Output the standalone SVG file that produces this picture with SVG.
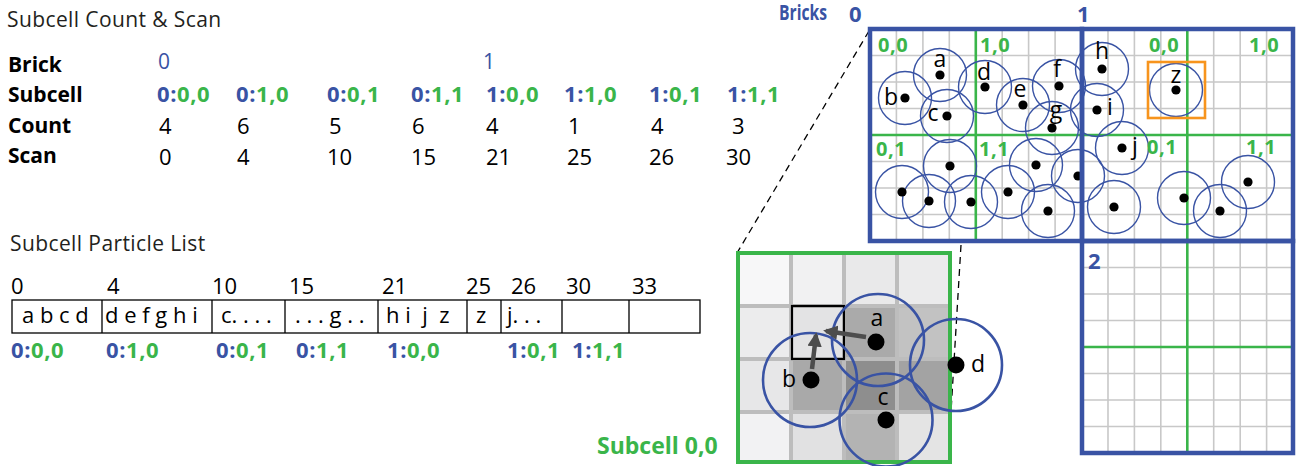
<svg xmlns="http://www.w3.org/2000/svg" width="1302" height="466" viewBox="0 0 1302 466">
<defs>
<style>
text{font-family:"Open Sans","Noto Sans","Liberation Sans",sans-serif;}
.ttl{font-size:21px;letter-spacing:0.4px;fill:#231f20;}
.rl{font-size:21px;font-weight:bold;fill:#000;}
.sv{font-size:22px;font-weight:bold;letter-spacing:0.6px;}
.b{fill:#3953a4;}
.g{fill:#3ab54a;}
.num{font-size:22px;fill:#000;}
.bn{font-size:21px;fill:#3953a4;}
.bx{font-size:22px;fill:#000;white-space:pre;}
.lbl{font-size:20px;font-weight:bold;letter-spacing:0.5px;fill:#3ab54a;}
.bk{font-size:22px;font-weight:bold;fill:#3953a4;}
.pl{font-size:23px;fill:#000;text-anchor:middle;}
.gl{stroke:#c8c8c8;stroke-width:1.6;fill:none;}
.gr{stroke:#3ab54a;stroke-width:2.6;fill:none;}
.bb{stroke:#3953a4;stroke-width:4.5;fill:none;}
.pc{stroke:#3953a4;stroke-width:1.4;fill:none;}
.zc{stroke:#3953a4;stroke-width:2.6;fill:none;}
.dash{stroke:#000;stroke-width:1.3;stroke-dasharray:7 5;fill:none;}
.arr{stroke:#4d4d4d;stroke-width:4.5;fill:none;marker-end:url(#ah);}
</style>
<marker id="ah" viewBox="0 0 10 10" refX="8" refY="5" markerWidth="3.2" markerHeight="3.2" orient="auto" markerUnits="strokeWidth">
<path d="M0,0 L10,5 L0,10 z" fill="#4d4d4d"/>
</marker>
</defs>
<rect width="1302" height="466" fill="#fff"/>

<g id="count-scan-table">
<text class="ttl" x="7" y="27">Subcell Count &amp; Scan</text>
<text class="rl" x="8" y="72">Brick</text>
<text class="rl" x="8" y="102">Subcell</text>
<text class="rl" x="8" y="133">Count</text>
<text class="rl" x="8" y="163">Scan</text>
<text class="bn" x="158" y="69">0</text>
<text class="bn" x="483" y="69">1</text>
<text class="sv" x="157" y="102"><tspan class="b">0:</tspan><tspan class="g">0,0</tspan></text>
<text class="sv" x="236" y="102"><tspan class="b">0:</tspan><tspan class="g">1,0</tspan></text>
<text class="sv" x="327" y="102"><tspan class="b">0:</tspan><tspan class="g">0,1</tspan></text>
<text class="sv" x="411" y="102"><tspan class="b">0:</tspan><tspan class="g">1,1</tspan></text>
<text class="sv" x="486" y="102"><tspan class="b">1:</tspan><tspan class="g">0,0</tspan></text>
<text class="sv" x="564" y="102"><tspan class="b">1:</tspan><tspan class="g">1,0</tspan></text>
<text class="sv" x="649" y="102"><tspan class="b">1:</tspan><tspan class="g">0,1</tspan></text>
<text class="sv" x="727" y="102"><tspan class="b">1:</tspan><tspan class="g">1,1</tspan></text>
<text class="num" x="159" y="134">4</text>
<text class="num" x="237" y="134">6</text>
<text class="num" x="329" y="134">5</text>
<text class="num" x="412" y="134">6</text>
<text class="num" x="486" y="134">4</text>
<text class="num" x="568" y="134">1</text>
<text class="num" x="651" y="134">4</text>
<text class="num" x="732" y="134">3</text>
<text class="num" x="159" y="165">0</text>
<text class="num" x="237" y="165">4</text>
<text class="num" x="327" y="165">10</text>
<text class="num" x="411" y="165">15</text>
<text class="num" x="486" y="165">21</text>
<text class="num" x="567" y="165">25</text>
<text class="num" x="649" y="165">26</text>
<text class="num" x="726" y="165">30</text>
</g>

<g id="particle-list">
<text class="ttl" x="10" y="251">Subcell Particle List</text>
<text class="num" x="11" y="294">0</text>
<text class="num" x="107" y="294">4</text>
<text class="num" x="212" y="294">10</text>
<text class="num" x="289" y="294">15</text>
<text class="num" x="382" y="294">21</text>
<text class="num" x="466" y="294">25</text>
<text class="num" x="511" y="294">26</text>
<text class="num" x="566" y="294">30</text>
<text class="num" x="632" y="294">33</text>
<rect x="12" y="300" width="688" height="33" fill="none" stroke="#000" stroke-width="1.3"/>
<path d="M102,300V333M212,300V333M285,300V333M378,300V333M467,300V333M501,300V333M562,300V333M629,300V333" stroke="#000" stroke-width="1.3"/>
<text class="bx" x="22" y="323">a b c d</text>
<text class="bx" x="105" y="323">d e f g h i</text>
<text class="bx" x="221" y="323">c. . . .</text>
<text class="bx" x="295" y="323">. . . g . .</text>
<text class="bx" x="386" y="323">h i  j  z</text>
<text class="bx" x="476" y="323">z</text>
<text class="bx" x="507" y="323">j. . .</text>
<text class="sv" x="11" y="358"><tspan class="b">0:</tspan><tspan class="g">0,0</tspan></text>
<text class="sv" x="106" y="358"><tspan class="b">0:</tspan><tspan class="g">1,0</tspan></text>
<text class="sv" x="216" y="358"><tspan class="b">0:</tspan><tspan class="g">0,1</tspan></text>
<text class="sv" x="296" y="358"><tspan class="b">0:</tspan><tspan class="g">1,1</tspan></text>
<text class="sv" x="387" y="358"><tspan class="b">1:</tspan><tspan class="g">0,0</tspan></text>
<text class="sv" x="507" y="358"><tspan class="b">1:</tspan><tspan class="g">0,1</tspan></text>
<text class="sv" x="572" y="358"><tspan class="b">1:</tspan><tspan class="g">1,1</tspan></text>
</g>

<g id="connectors">
<path class="dash" d="M869,31 L737,253"/>
<path class="dash" d="M961,245 L948,462"/>
</g>

<g id="bricks">
<path class="gl" d="M896.4,29V241M922.9,29V241M949.3,29V241M1002.2,29V241M1028.6,29V241M1055.1,29V241M1108,29V453M1134.4,29V453M1160.8,29V453M1213.7,29V453M1240.2,29V453M1266.6,29V453"/>
<path class="gl" d="M870,55.5H1293M870,82H1293M870,108.5H1293M870,161.5H1293M870,188H1293M870,214.5H1293M1082,267.5H1293M1082,294H1293M1082,320.5H1293M1082,373.5H1293M1082,400H1293M1082,426.5H1293"/>
<path class="gr" d="M975.8,29V241M870,135H1293M1187.3,29V453M1082,347H1293"/>
</g>

<g id="particles">
<g class="pc">
<circle cx="940" cy="75" r="26.5"/>
<circle cx="905" cy="98" r="26.5"/>
<circle cx="947" cy="116" r="26.5"/>
<circle cx="985" cy="87" r="26.5"/>
<circle cx="1023" cy="105" r="26.5"/>
<circle cx="1059" cy="86" r="26.5"/>
<circle cx="1052" cy="128" r="26.5"/>
<circle cx="1102" cy="69" r="26.5"/>
<circle cx="1097" cy="110" r="26.5"/>
<circle cx="1176" cy="90" r="26.5"/>
<circle cx="1122" cy="148" r="26.5"/>
<circle cx="950" cy="166" r="26.5"/>
<circle cx="902" cy="192" r="26.5"/>
<circle cx="929" cy="201" r="26.5"/>
<circle cx="971" cy="202" r="26.5"/>
<circle cx="1008" cy="192" r="26.5"/>
<circle cx="1036" cy="165" r="26.5"/>
<circle cx="1048" cy="211" r="26.5"/>
<circle cx="1078" cy="176" r="26.5"/>
<circle cx="1114" cy="207" r="26.5"/>
<circle cx="1184" cy="198" r="26.5"/>
<circle cx="1220" cy="211" r="26.5"/>
<circle cx="1248" cy="182" r="26.5"/>
</g>
<g fill="#000">
<circle cx="940" cy="75" r="4.6"/>
<circle cx="905" cy="98" r="4.6"/>
<circle cx="947" cy="116" r="4.6"/>
<circle cx="985" cy="87" r="4.6"/>
<circle cx="1023" cy="105" r="4.6"/>
<circle cx="1059" cy="86" r="4.6"/>
<circle cx="1052" cy="128" r="4.6"/>
<circle cx="1102" cy="69" r="4.6"/>
<circle cx="1097" cy="110" r="4.6"/>
<circle cx="1176" cy="90" r="4.6"/>
<circle cx="1122" cy="148" r="4.6"/>
<circle cx="950" cy="166" r="4.6"/>
<circle cx="902" cy="192" r="4.6"/>
<circle cx="929" cy="201" r="4.6"/>
<circle cx="971" cy="202" r="4.6"/>
<circle cx="1008" cy="192" r="4.6"/>
<circle cx="1036" cy="165" r="4.6"/>
<circle cx="1048" cy="211" r="4.6"/>
<circle cx="1078" cy="176" r="4.6"/>
<circle cx="1114" cy="207" r="4.6"/>
<circle cx="1184" cy="198" r="4.6"/>
<circle cx="1220" cy="211" r="4.6"/>
<circle cx="1248" cy="182" r="4.6"/>
</g>
<text class="pl" x="940" y="67">a</text>
<text class="pl" x="891" y="105">b</text>
<text class="pl" x="933" y="121">c</text>
<text class="pl" x="984" y="80">d</text>
<text class="pl" x="1020" y="97">e</text>
<text class="pl" x="1057" y="77">f</text>
<text class="pl" x="1056" y="118">g</text>
<text class="pl" x="1102" y="59">h</text>
<text class="pl" x="1110" y="115">i</text>
<text class="pl" x="1135" y="154">j</text>
<text class="pl" x="1176" y="83">z</text>
<rect x="1148" y="62" width="57" height="56" fill="none" stroke="#f7941d" stroke-width="2.6"/>
</g>

<g id="brick-borders">
<rect class="bb" x="870" y="29" width="212" height="212"/>
<rect class="bb" x="1082" y="29" width="211" height="212"/>
<rect class="bb" x="1082" y="241" width="211" height="212"/>
<text class="lbl" x="878" y="52">0,0</text>
<text class="lbl" x="980" y="52">1,0</text>
<text class="lbl" x="1149" y="52">0,0</text>
<text class="lbl" x="1249" y="52">1,0</text>
<text class="lbl" x="876" y="156">0,1</text>
<text class="lbl" x="979" y="156">1,1</text>
<text class="lbl" x="1147" y="154">0,1</text>
<text class="lbl" x="1246" y="154">1,1</text>
<text class="bk" x="779" y="20" style="font-size:21px" textLength="48" lengthAdjust="spacingAndGlyphs">Bricks</text>
<text class="bk" x="849" y="22">0</text>
<text class="bk" x="1077" y="22">1</text>
<text class="bk" x="1088" y="269">2</text>
</g>

<g id="subcell-zoom">
<rect x="738" y="253" width="53" height="53" fill="#f7f7f8"/>
<rect x="791" y="253" width="53" height="53" fill="#f1f1f2"/>
<rect x="844" y="253" width="53" height="53" fill="#e9e9ea"/>
<rect x="897" y="253" width="53" height="53" fill="#ebebec"/>
<rect x="738" y="306" width="53" height="53" fill="#ececed"/>
<rect x="791" y="306" width="53" height="53" fill="#e3e3e4"/>
<rect x="844" y="306" width="53" height="53" fill="#aaaaaa"/>
<rect x="897" y="306" width="53" height="53" fill="#c2c2c2"/>
<rect x="738" y="359" width="53" height="53" fill="#e7e7e8"/>
<rect x="791" y="359" width="53" height="53" fill="#a9a9a9"/>
<rect x="844" y="359" width="53" height="53" fill="#8e8e8e"/>
<rect x="897" y="359" width="53" height="53" fill="#a3a3a3"/>
<rect x="738" y="412" width="53" height="50" fill="#f2f2f3"/>
<rect x="791" y="412" width="53" height="50" fill="#e1e1e2"/>
<rect x="844" y="412" width="53" height="50" fill="#b3b3b3"/>
<rect x="897" y="412" width="53" height="50" fill="#e4e4e4"/>
<path d="M791,253V462M844,253V462M897,253V462M738,306H950M738,359H950M738,412H950" stroke="#bdbdbd" stroke-width="4"/>
<rect x="738" y="253" width="212" height="209" fill="none" stroke="#3ab54a" stroke-width="4"/>
<rect x="792" y="306" width="52" height="53" fill="none" stroke="#000" stroke-width="2.2"/>
<circle class="zc" cx="878" cy="340" r="46"/>
<circle class="zc" cx="810" cy="380" r="47"/>
<circle class="zc" cx="886" cy="420" r="46.5"/>
<circle class="zc" cx="956" cy="365" r="46"/>
<path class="arr" d="M866,337 L826,331"/>
<path class="arr" d="M812,369 L816,335"/>
<circle cx="876" cy="342" r="8.5"/>
<circle cx="811" cy="380" r="8.5"/>
<circle cx="886" cy="420" r="8.5"/>
<circle cx="956" cy="365" r="8.5"/>
<text class="pl" x="877" y="326">a</text>
<text class="pl" x="789" y="387">b</text>
<text class="pl" x="883" y="405">c</text>
<text class="pl" x="978" y="372">d</text>
<text x="597" y="454" style="font-size:23px;font-weight:bold;fill:#3ab54a">Subcell 0,0</text>
</g>
</svg>
